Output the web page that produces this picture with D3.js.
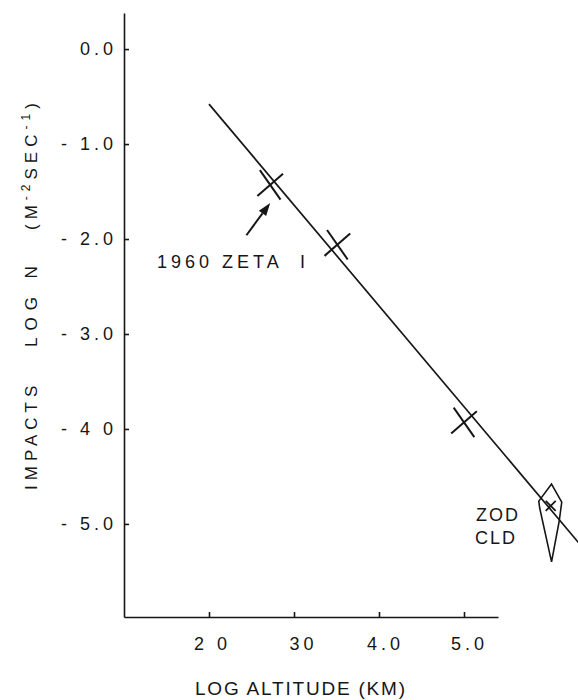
<!DOCTYPE html>
<html>
<head>
<meta charset="utf-8">
<script src="https://cdn.jsdelivr.net/npm/d3@7"></script>
<style>
  html, body { margin: 0; padding: 0; background: #fff; }
  svg { display: block; }
  text { font-family: "Liberation Sans", Arial, sans-serif; fill: #161616; }
</style>
</head>
<body>
<svg id="chart" width="578" height="700"></svg>
<script>
// ---- data ----
const xTickValues = [2, 3, 4, 5];
const xTickLabels = ["2 0", "30", "4.0", "5.0"];
const yTickValues = [0, -1, -2, -3, -4, -5];
const yTickLabels = ["0.0", "- 1.0", "- 2.0", "- 3.0", "- 4 0", "- 5.0"];

// measured data points (log altitude, log N)
const pointX = [2.72, 3.51, 5.00];
const pointY = [-1.43, -2.06, -3.93];

// zodiacal cloud point and its error kite
const zodX = [6.02];
const zodY = [-4.81];
const kiteX = [6.03, 6.15, 6.12, 6.03, 5.89, 5.88];
const kiteY = [-4.58, -4.77, -4.97, -5.40, -4.83, -4.76];

// fitted line
const fitX = [2.0, 6.36];
const fitY = [-0.58, -5.21];

// arrow for 1960 Zeta I annotation (tail, tip)
const arrowX = [2.44, 2.72];
const arrowY = [-1.96, -1.62];

const xTitle = "LOG ALTITUDE (KM)";
const zodLabel = ["ZOD", "CLD"];
const zetaLabel = "1960 ZETA";

// ---- drawing ----
const svg = d3.select("#chart");
const ink = "#161616";

const x = d3.scaleLinear().domain([1.0, 5.4]).range([124, 498]);
const y = d3.scaleLinear().domain([0.38, -5.98]).range([13, 617]);

// x axis
const xAxis = d3.axisBottom(x)
  .tickValues(xTickValues)
  .tickFormat((d, i) => xTickLabels[i])
  .tickSizeInner(-5)
  .tickSizeOuter(0)
  .tickPadding(0);
const gx = svg.append("g").attr("transform", `translate(0,${y(-5.98)})`).call(xAxis);
gx.attr("font-size", null).attr("font-family", null);
gx.select(".domain").attr("stroke", ink).attr("stroke-width", 1.6);
gx.selectAll(".tick line").attr("stroke", ink).attr("stroke-width", 1.6);
const xCenters = [210, 301, 383, 467];
gx.selectAll(".tick text")
  .attr("font-size", 18).attr("letter-spacing", 4)
  .attr("fill", ink).attr("dy", null).attr("y", 650 - 617)
  .attr("text-anchor", "middle")
  .attr("x", (d, i) => xCenters[i] - x(d) + 2);

// y axis
const yAxis = d3.axisLeft(y)
  .tickValues(yTickValues)
  .tickFormat((d, i) => yTickLabels[i])
  .tickSizeInner(-5)
  .tickSizeOuter(0)
  .tickPadding(0);
const gy = svg.append("g").attr("transform", `translate(${x(1.0)},0)`).call(yAxis);
gy.attr("font-size", null).attr("font-family", null);
gy.select(".domain").attr("stroke", ink).attr("stroke-width", 1.6);
gy.selectAll(".tick text")
  .attr("font-size", 18).attr("letter-spacing", 4)
  .attr("fill", ink)
  .attr("text-anchor", "end")
  .attr("x", 113 - x(1.0) + 4);
gy.selectAll(".tick line").attr("stroke", ink).attr("stroke-width", 1.6);

// fitted line
svg.append("path")
  .datum(fitX.map((d, i) => [d, fitY[i]]))
  .attr("d", d3.line().x(d => x(d[0])).y(d => y(d[1])))
  .attr("fill", "none").attr("stroke", ink).attr("stroke-width", 1.7);

// crosses
const angA = 55 * Math.PI / 180, angB = -41 * Math.PI / 180;
const halfA = 18, halfB = 17;
const pts = pointX.map((d, i) => [x(d), y(pointY[i])]);
const cg = svg.append("g");
pts.forEach(p => {
  cg.append("line")
    .attr("x1", p[0] - halfA * Math.cos(angA)).attr("y1", p[1] - halfA * Math.sin(angA))
    .attr("x2", p[0] + halfA * Math.cos(angA)).attr("y2", p[1] + halfA * Math.sin(angA))
    .attr("stroke", ink).attr("stroke-width", 2);
  cg.append("line")
    .attr("x1", p[0] - halfB * Math.cos(angB)).attr("y1", p[1] - halfB * Math.sin(angB))
    .attr("x2", p[0] + halfB * Math.cos(angB)).attr("y2", p[1] + halfB * Math.sin(angB))
    .attr("stroke", ink).attr("stroke-width", 2);
});

// zodiacal cloud kite
svg.append("path")
  .datum(kiteX.map((d, i) => [d, kiteY[i]]))
  .attr("d", d3.line().x(d => x(d[0])).y(d => y(d[1])).curve(d3.curveLinearClosed))
  .attr("fill", "none").attr("stroke", ink).attr("stroke-width", 1.6).attr("stroke-linejoin", "miter");
zodX.forEach((d, i) => {
  const px = x(d), py = y(zodY[i]), s = 5;
  svg.append("line").attr("x1", px - s).attr("y1", py - s).attr("x2", px + s).attr("y2", py + s)
    .attr("stroke", ink).attr("stroke-width", 1.8);
  svg.append("line").attr("x1", px - s).attr("y1", py + s).attr("x2", px + s).attr("y2", py - s)
    .attr("stroke", ink).attr("stroke-width", 1.8);
});

// arrow
{
  const tx = x(arrowX[0]), ty = y(arrowY[0]);
  const hx = x(arrowX[1]), hy = y(arrowY[1]);
  const ang = Math.atan2(hy - ty, hx - tx);
  const hl = 13, hw = 4.5;
  const bx = hx - hl * Math.cos(ang), by = hy - hl * Math.sin(ang);
  svg.append("line").attr("x1", tx).attr("y1", ty).attr("x2", bx).attr("y2", by)
    .attr("stroke", ink).attr("stroke-width", 2);
  const nx = -Math.sin(ang), ny = Math.cos(ang);
  svg.append("path")
    .attr("d", `M${hx},${hy}L${bx + nx * hw},${by + ny * hw}L${bx - nx * hw},${by - ny * hw}Z`)
    .attr("fill", ink);
}

// annotation texts
svg.append("text").attr("x", 157).attr("y", 268)
  .attr("font-size", 18).attr("letter-spacing", 4).text(zetaLabel);
svg.append("text").attr("x", 300).attr("y", 268)
  .attr("font-size", 18).text("I");

svg.append("text").attr("x", 476).attr("y", 521)
  .attr("font-size", 18).attr("letter-spacing", 2).text(zodLabel[0]);
svg.append("text").attr("x", 475).attr("y", 544)
  .attr("font-size", 18).attr("letter-spacing", 2).text(zodLabel[1]);

// x title
svg.append("text").attr("x", 195).attr("y", 695)
  .attr("font-size", 19).attr("letter-spacing", 1.8).text(xTitle);

// y title (rotated)
const yt = svg.append("g").attr("transform", "translate(37,0) rotate(-90)");
yt.append("text").attr("x", -490).attr("y", 0)
  .attr("font-size", 17).attr("letter-spacing", 5).text("IMPACTS");
yt.append("text").attr("x", -347).attr("y", 0)
  .attr("font-size", 17).attr("letter-spacing", 7).text("LOG N");
const unit = yt.append("text").attr("x", -230).attr("y", 0)
  .attr("font-size", 17).attr("letter-spacing", 5);
unit.append("tspan").text("(M");
unit.append("tspan").attr("dy", -7).attr("font-size", 12).text("-2");
unit.append("tspan").attr("dy", 7).text("SEC");
unit.append("tspan").attr("dy", -7).attr("font-size", 12).text("-1");
unit.append("tspan").attr("dy", 7).text(")");
</script>
</body>
</html>
